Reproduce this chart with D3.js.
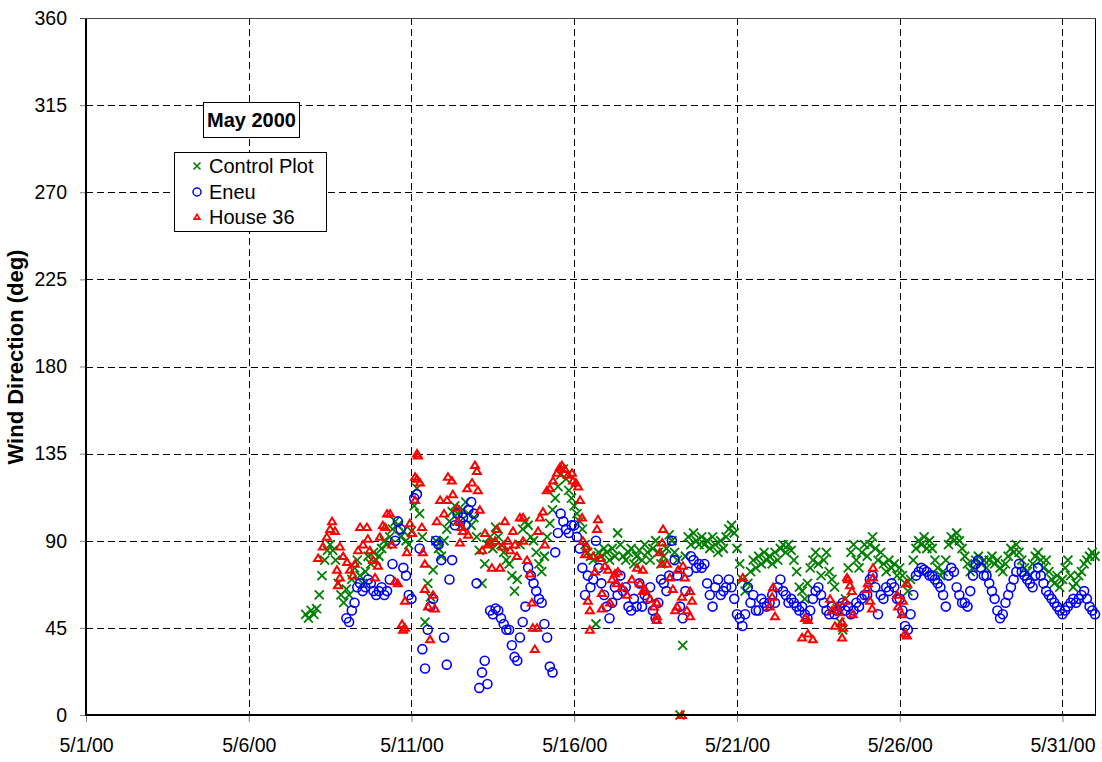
<!DOCTYPE html>
<html><head><meta charset="utf-8">
<script src="https://cdn.jsdelivr.net/npm/d3@7"></script>
<style>body{margin:0;background:#fff;} text{font-family:Arial,"Liberation Sans",sans-serif;}</style>
</head><body><svg id="c" width="1102" height="762"></svg>
<script>
// ---------- data ----------
const seriesNames = ["Control Plot", "Eneu", "House 36"];
const chartTitle = "May 2000";
const yTitle = "Wind Direction (deg)";
const xTickLabels = ["5/1/00", "5/6/00", "5/11/00", "5/16/00", "5/21/00", "5/26/00", "5/31/00"];
const yTickValues = [0, 45, 90, 135, 180, 225, 270, 315, 360];

// Control Plot: readings every 2 hours starting 5/7/00 18:00
const controlStart = "2000-05-07T18:00";
const controlPlot = [
  52, 50, 54,
  52, 55, 62, 72, 80, 85, 88, 85, 80, 68, 62, 58,
  65, 62, 70, 76, 80, 72, 68, 74, 82, 78, 84, 80,
  82, 86, 90, 88, 92, 96, 100, 98, 92, 95, 90, 88,
  95, 108, 117, 104, 92, 48, 68, 61, 75, 90, 86, 82,
  90, 96, 100, 105, 108, 104, 100, 106, 110, 104, 98, 102,
  92, 85, 68, 78, 88, 92, 86, 97, 92, 88, 84, 80,
  78, 72, 64, 70, 88, 96, 100, 98, 92, 90, 84, 78,
  74, 82, 92, 99, 106, 112, 118, 124, 127, 122, 116, 112,
  108, 104, 100, 96, 88, 84, 82, 80, 47, 84, 82, 86,
  84, 80, 86, 82, 94, 88, 82, 80, 84, 86, 78, 82,
  85, 80, 88, 84, 80, 86, 90, 84, 78, 82, 86, 93,
  90, 84, 80, 0, 36, 82, 92, 88, 94, 90, 88, 92,
  88, 90, 86, 92, 88, 84, 90, 86, 92, 96, 98, 94,
  86, 78, 70, 64, 68, 74, 80, 76, 82, 78, 84, 80,
  82, 78, 84, 80, 86, 88, 84, 88, 85, 80, 74, 66,
  64, 60, 68, 76, 80, 84, 78, 72, 80, 84, 74, 70,
  66, 55, 48, 44, 60, 76, 84, 88, 80, 76, 84, 88,
  82, 88, 92, 86, 80, 84, 78, 74, 80, 76, 78, 72,
  76, 72, 68, 64, 70, 80, 86, 90, 88, 92, 86, 90,
  86, 80, 76, 72, 74, 80, 88, 92, 90, 94, 90, 86,
  82, 78, 74, 76, 80, 82, 78, 80, 76, 80, 82, 78,
  80, 76, 74, 78, 82, 86, 84, 88, 84, 80, 76, 74,
  72, 78, 82, 84, 80, 76, 80, 74, 70, 68, 72, 66,
  70, 76, 80, 72, 66, 68, 72, 74, 78, 80, 82, 84,
  82
];

// Eneu: readings every 2 hours starting 5/9/00 00:00
const eneuStart = "2000-05-09T00:00";
const eneu = [
  50, 48, 54, 58, 66, 68, 64, 66, 70, 68, 64, 62,
  64, 66, 62, 64, 70, 78, 90, 100, 96, 76, 72, 62,
  60, 112, 114, 86, 34, 24, 44, 56, 60, 90, 88, 80,
  40, 26, 70, 80, 98, 104, 100, 102, 98, 106, 110, 104,
  68, 14, 22, 28, 16, 54, 52, 55, 54, 50, 47, 44,
  44, 36, 30, 28, 40, 48, 56, 76, 72, 68, 64, 60,
  58, 47, 40, 25, 22, 84, 94, 104, 100, 96, 94, 98,
  98, 92, 86, 76, 62, 72, 66, 70, 90, 76, 68, 62,
  56, 50, 58, 66, 62, 72, 64, 66, 56, 54, 60, 56,
  68, 56, 62, 60, 66, 54, 50, 58, 70, 68, 64, 72,
  90, 80, 72, 56, 50, 64, 74, 82, 80, 76, 78, 76,
  78, 68, 62, 56, 66, 70, 62, 64, 66, 70, 66, 60,
  52, 50, 46, 52, 66, 58, 62, 54, 54, 60, 58, 56,
  58, 62, 58, 66, 70, 64, 62, 58, 60, 58, 56, 54,
  56, 52, 50, 54, 60, 64, 66, 62, 58, 54, 52, 56,
  52, 54, 56, 58, 54, 56, 52, 54, 58, 56, 60, 62,
  62, 70, 72, 66, 52, 62, 60, 66, 64, 68, 66, 60,
  60, 54, 46, 44, 52, 62, 72, 74, 76, 75, 74, 72,
  72, 70, 68, 66, 62, 56, 72, 76, 74, 66, 62, 58,
  58, 56, 64, 72, 78, 80, 76, 72, 72, 68, 64, 60,
  54, 50, 52, 58, 62, 66, 70, 74, 78, 74, 72, 70,
  68, 66, 72, 76, 72, 68, 64, 62, 60, 58, 56, 54,
  52, 54, 56, 58, 60, 58, 60, 62, 64, 60, 56, 54,
  52
];

// House 36: irregular readings [day of May 2000 (fractional), degrees]
const house36 = [
  [8.13,81],[8.28,87],[8.40,92],[8.50,96],[8.56,100],[8.65,95],[8.71,75],[8.74,67],[8.80,87],[8.80,71],[8.90,82],
  [9.02,79],[9.11,75],[9.20,72],[9.26,78],[9.36,85],[9.42,97],[9.51,88],[9.63,97],[9.66,91],[9.72,85],[9.82,80],[9.88,71],[9.97,77],
  [10.03,92],[10.12,98],[10.19,97],[10.25,104],[10.34,104],[10.40,88],[10.49,69],[10.58,68],[10.71,47],[10.74,44],[10.80,59],[10.80,45],[10.86,84],[10.95,99],
  [11.02,94],[11.11,111],[11.11,123],[11.17,135],[11.20,134],[11.17,122],[11.26,120],[11.32,97],[11.35,84],[11.41,78],[11.41,65],[11.51,56],[11.57,39],[11.66,62],[11.72,55],[11.78,100],[11.88,111],
  [12.00,104],[12.09,111],[12.12,123],[12.24,121],[12.27,114],[12.40,107],[12.43,100],[12.49,89],[12.55,97],[12.58,95],[12.71,117],[12.74,93],[12.86,120],[12.95,129],
  [13.01,126],[13.04,116],[13.10,106],[13.17,85],[13.26,94],[13.35,88],[13.41,89],[13.47,76],[13.57,90],[13.63,96],[13.72,76],[13.81,87],[13.87,100],[13.96,90],
  [14.03,85],[14.12,95],[14.18,88],[14.24,82],[14.33,102],[14.43,102],[14.43,90],[14.55,80],[14.64,73],[14.70,58],[14.73,45],[14.79,34],[14.86,45],[14.89,95],[14.95,102],
  [15.04,105],[15.10,88],[15.16,116],[15.25,117],[15.35,121],[15.47,125],[15.56,128],[15.62,129],[15.71,127],[15.81,124],[15.93,125],[15.96,121],
  [16.05,120],[16.12,118],[16.18,111],[16.24,102],[16.27,90],[16.33,83],[16.39,87],[16.42,59],[16.48,54],[16.48,44],[16.58,82],[16.64,74],[16.70,96],[16.73,101],[16.79,81],[16.85,63],[16.85,55],[16.94,77],
  [17.04,75],[17.10,58],[17.16,70],[17.25,73],[17.31,68],[17.34,74],[17.47,66],[17.62,62],[17.77,70],[17.93,76],
  [18.02,68],[18.11,64],[18.11,75],[18.17,65],[18.33,60],[18.45,56],[18.54,58],[18.54,49],[18.54,51],[18.63,84],[18.70,89],[18.70,78],[18.73,96],[18.85,78],[18.94,71],
  [19.03,65],[19.10,54],[19.16,56],[19.19,75],[19.31,0],[19.31,61],[19.34,77],[19.40,71],[19.46,54],[19.56,51],[19.56,64],[19.62,59],
  [21.18,71],[22.01,56],[22.08,61],[22.11,66],[22.17,51],
  [23.00,40],[23.09,50],[23.18,49],[23.18,42],[23.33,39],[23.86,60],[23.92,54],
  [24.01,46],[24.07,56],[24.16,53],[24.23,48],[24.23,40],[24.26,45],[24.32,59],[24.38,71],[24.41,70],[24.47,67],[24.53,64],[24.56,52],
  [24.99,65],[25.02,68],[25.09,59],[25.15,55],[25.18,76],[25.18,71],[25.92,62],[25.95,56],
  [26.07,52],[26.10,59],[26.16,42],[26.22,68],[26.22,41]
];

// ---------- drawing ----------
const svg = d3.select("#c");
const W = 1102, H = 762;
const pL = 86, pR = 1095, pT = 18, pB = 715;
const HOUR = 3600e3, DAY = 24 * HOUR;
const parseISO = d3.utcParse("%Y-%m-%dT%H:%M");
const parseTick = d3.utcParse("%m/%d/%y");
const may1 = Date.UTC(2000, 4, 1);

const x = d3.scaleUtc().domain([new Date(may1), new Date(Date.UTC(2000, 5, 1))]).range([pL, pR]);
const y = d3.scaleLinear().domain([0, 360]).range([pB, pT]);

const toSeries = (start, vals) => {
  const t0 = parseISO(start).getTime();
  return vals.map((v, i) => ({ t: new Date(t0 + i * 2 * HOUR), v }));
};
const green = toSeries(controlStart, controlPlot);
const blue = toSeries(eneuStart, eneu);
const red = house36.map(([d, v]) => ({ t: new Date(may1 + (d - 1) * DAY), v }));
const tickDates = xTickLabels.map(parseTick);

svg.append("rect").attr("width", W).attr("height", H).attr("fill", "#fff");

// gridlines
const grid = svg.append("g").attr("stroke", "#000").attr("stroke-width", 1).attr("stroke-dasharray", "7,4").attr("shape-rendering", "crispEdges");
grid.selectAll("line.h").data(yTickValues.filter(v => v > 0)).join("line").attr("class", "h")
  .attr("x1", pL).attr("x2", pR).attr("y1", d => Math.round(y(d)) + 0.5).attr("y2", d => Math.round(y(d)) + 0.5);
grid.selectAll("line.v").data(tickDates.slice(1)).join("line").attr("class", "v")
  .attr("y1", pT).attr("y2", pB).attr("x1", d => Math.round(x(d)) + 0.5).attr("x2", d => Math.round(x(d)) + 0.5);

// right border
svg.append("line").attr("x1", pR + 0.5).attr("x2", pR + 0.5).attr("y1", pT).attr("y2", pB)
  .attr("stroke", "#000").attr("stroke-width", 1);

// markers
const xPath = "M-4.5,-4.5L4.5,4.5M-4.5,4.5L4.5,-4.5";
const triPath = (s) => `M0,${-s}L${s * 1.1},${s * 0.8}L${-s * 1.1},${s * 0.8}Z`;

svg.append("g").selectAll("path").data(green).join("path")
  .attr("d", xPath).attr("transform", d => `translate(${x(d.t)},${y(d.v)})`)
  .attr("stroke", "#008000").attr("stroke-width", 1.8).attr("fill", "none");

svg.append("g").selectAll("circle").data(blue).join("circle")
  .attr("cx", d => x(d.t)).attr("cy", d => y(d.v)).attr("r", 4.5)
  .attr("stroke", "#0000ff").attr("stroke-width", 1.6).attr("fill", "none");

svg.append("g").selectAll("path").data(red).join("path")
  .attr("d", triPath(3.6)).attr("transform", d => `translate(${x(d.t)},${y(d.v)})`)
  .attr("stroke", "#ff0000").attr("stroke-width", 2).attr("fill", "none");

// axes
const fs = "19.5px";
const yAxis = svg.append("g").attr("transform", `translate(${pL},0)`)
  .call(d3.axisLeft(y).tickValues(yTickValues).tickSize(6).tickSizeOuter(0).tickFormat(d3.format("d")));
yAxis.select(".domain").remove();
yAxis.selectAll(".tick line").attr("stroke", "#808080");
yAxis.selectAll(".tick text").attr("x", -19).attr("font-size", fs).attr("fill", "#000").attr("font-family", "Arial, 'Liberation Sans', sans-serif");

const xAxis = svg.append("g").attr("transform", `translate(0,${pB})`)
  .call(d3.axisBottom(x).tickValues(tickDates).tickSize(7).tickSizeOuter(0).tickFormat(d3.utcFormat("%-m/%-d/%y")));
xAxis.select(".domain").remove();
xAxis.selectAll(".tick line").attr("stroke", "#808080");
xAxis.selectAll(".tick text").attr("y", 37).attr("dy", 0).attr("font-size", fs).attr("fill", "#000").attr("font-family", "Arial, 'Liberation Sans', sans-serif");

svg.append("line").attr("x1", pL).attr("x2", pL).attr("y1", pT).attr("y2", pB + 1)
  .attr("stroke", "#000").attr("stroke-width", 2);
svg.append("line").attr("x1", pL - 1).attr("x2", pR + 1).attr("y1", pB).attr("y2", pB)
  .attr("stroke", "#000").attr("stroke-width", 2);
svg.append("line").attr("x1", pL - 6).attr("x2", pR + 1).attr("y1", pT + 0.5).attr("y2", pT + 0.5)
  .attr("stroke", "#444").attr("stroke-width", 1);

// y title
svg.append("text").attr("transform", `translate(23,357) rotate(-90)`).attr("text-anchor", "middle")
  .attr("font-size", "22px").attr("font-weight", "bold").text(yTitle);

// title box
svg.append("rect").attr("x", 203.5).attr("y", 102.5).attr("width", 96).attr("height", 35)
  .attr("fill", "#fff").attr("stroke", "#000");
svg.append("text").attr("x", 251.5).attr("y", 127).attr("text-anchor", "middle")
  .attr("font-size", "20px").attr("font-weight", "bold").text(chartTitle);

// legend
const lg = svg.append("g");
lg.append("rect").attr("x", 174.5).attr("y", 152.5).attr("width", 152).attr("height", 79)
  .attr("fill", "#fff").attr("stroke", "#000");
const rows = [166, 192, 217];
lg.append("path").attr("d", "M-3.5,-3.5L3.5,3.5M-3.5,3.5L3.5,-3.5").attr("transform", `translate(197,${rows[0]})`)
  .attr("stroke", "#008000").attr("stroke-width", 1.6);
lg.append("circle").attr("cx", 197).attr("cy", rows[1]).attr("r", 4).attr("stroke", "#0000ff").attr("stroke-width", 1.5).attr("fill", "none");
lg.append("path").attr("d", triPath(2.6)).attr("transform", `translate(197,${rows[2]})`)
  .attr("stroke", "#ff0000").attr("stroke-width", 1.6).attr("fill", "none");
lg.selectAll("text").data(seriesNames).join("text")
  .attr("x", 209).attr("y", (d, i) => rows[i]).attr("dy", "0.36em").attr("font-size", "20px").text(d => d);
</script></body></html>
